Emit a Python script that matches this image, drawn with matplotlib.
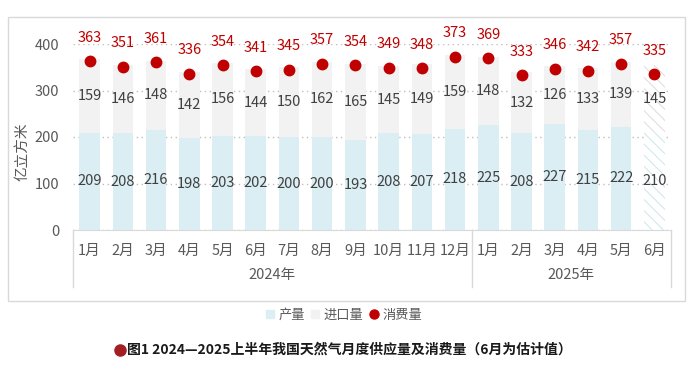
import matplotlib.pyplot as plt
from matplotlib.lines import Line2D
from matplotlib.patches import Rectangle

plt.rcParams['font.family'] = ['Noto Sans CJK SC', 'DejaVu Sans']
plt.rcParams['hatch.linewidth'] = 0.7

months = ['1月', '2月', '3月', '4月', '5月', '6月', '7月', '8月', '9月', '10月', '11月', '12月',
          '1月', '2月', '3月', '4月', '5月', '6月']
years = ['2024年', '2025年']
production = [209, 208, 216, 198, 203, 202, 200, 200, 193, 208, 207, 218,
              225, 208, 227, 215, 222, 210]
imports = [159, 146, 148, 142, 156, 144, 150, 162, 165, 145, 149, 159,
           148, 132, 126, 133, 139, 145]
consumption = [363, 351, 361, 336, 354, 341, 345, 357, 354, 349, 348, 373,
               369, 333, 346, 342, 357, 335]

c_prod = '#DAEEF3'
c_imp = '#F2F2F2'
c_red = '#C00000'
c_txt = '#404040'
c_axis = '#595959'

fig = plt.figure(figsize=(6.96, 3.70), dpi=100)
ax = fig.add_axes([73 / 696, 1 - 230 / 370, (671 - 73) / 696, 186 / 370])

x = list(range(len(months)))
n = len(months)
for i in x:
    est = i == n - 1  # last month is an estimate -> hatched
    ax.bar(i, production[i], width=0.62, color='white' if est else c_prod,
           edgecolor='#C9E6EE' if est else 'none', linewidth=0,
           hatch='\\\\\\' if est else None, zorder=2)
    ax.bar(i, imports[i], width=0.62, bottom=production[i],
           color='white' if est else c_imp,
           edgecolor='#DCDCDC' if est else 'none', linewidth=0,
           hatch='\\\\\\' if est else None, zorder=2)
    ax.text(i, production[i] / 2, str(production[i]), ha='center', va='center',
            fontsize=10.5, color=c_txt, zorder=4)
    ax.text(i, production[i] + imports[i] / 2, str(imports[i]), ha='center',
            va='center', fontsize=10.5, color=c_txt, zorder=4)

ax.plot(x, consumption, 'o', color=c_red, markersize=7.5, zorder=5)
for i, v in enumerate(consumption):
    ax.annotate(str(v), (i, v), xytext=(0, 17), textcoords='offset points',
                ha='center', va='center', fontsize=10.5, color=c_red, annotation_clip=False)

ax.set_xlim(-0.5, n - 0.5)
ax.set_ylim(0, 400)
ax.set_yticks([0, 100, 200, 300, 400])
ax.yaxis.grid(True, linestyle=(0, (1, 2.5)), color='#BFBFBF', linewidth=1)
ax.set_axisbelow(True)
for s in ['top', 'right', 'left']:
    ax.spines[s].set_visible(False)
ax.spines['bottom'].set_color('#D9D9D9')
ax.tick_params(axis='y', length=0, pad=10, labelsize=10.5, labelcolor=c_axis)
ax.tick_params(axis='x', length=0, pad=10, labelsize=10.5, labelcolor=c_axis)
ax.set_xticks(x)
ax.set_xticklabels(months)

# second level of the category axis
trans = ax.get_xaxis_transform()
for xs in [-0.5, 11.5, n - 0.5]:
    ax.plot([xs, xs], [0, -57 / 186], color='#D9D9D9', linewidth=1,
            transform=trans, clip_on=False)
ax.text(5.5, -45 / 186, years[0], transform=trans, ha='center', va='center',
        fontsize=10.5, color=c_axis)
ax.text(14.5, -45 / 186, years[1], transform=trans, ha='center', va='center',
        fontsize=10.5, color=c_axis)

fig.text(22 / 696, 1 - 152 / 370, '亿立方米', rotation=90, ha='center', va='center',
         fontsize=10.5, color=c_axis)

# frame around chart
fig.add_artist(Rectangle((8 / 696, 1 - 301 / 370), 677 / 696, 284 / 370,
                         transform=fig.transFigure, fill=False,
                         edgecolor='#D9D9D9', linewidth=1))

handles = [Line2D([], [], marker='s', linestyle='none', color=c_prod, markersize=6),
           Line2D([], [], marker='s', linestyle='none', color=c_imp, markersize=6),
           Line2D([], [], marker='o', linestyle='none', color=c_red, markersize=6.5)]
fig.legend(handles, ['产量', '进口量', '消费量'], loc='center', ncol=3,
           bbox_to_anchor=(344 / 696, 1 - 315 / 370), frameon=False,
           fontsize=9.5, labelcolor=c_axis, handlelength=0.6, handletextpad=0.35,
           columnspacing=0.5, borderpad=0)

fig.add_artist(Line2D([120 / 696], [1 - 350 / 370], marker='o', color='#A31F24',
                      markersize=8, transform=fig.transFigure))
fig.text(127 / 696, 1 - 350 / 370, '图1 2024—2025上半年我国天然气月度供应量及消费量（6月为估计值）',
         ha='left', va='center', fontsize=10, fontweight='bold', color='#1A1A1A')

fig.savefig('out.png', dpi=100)
